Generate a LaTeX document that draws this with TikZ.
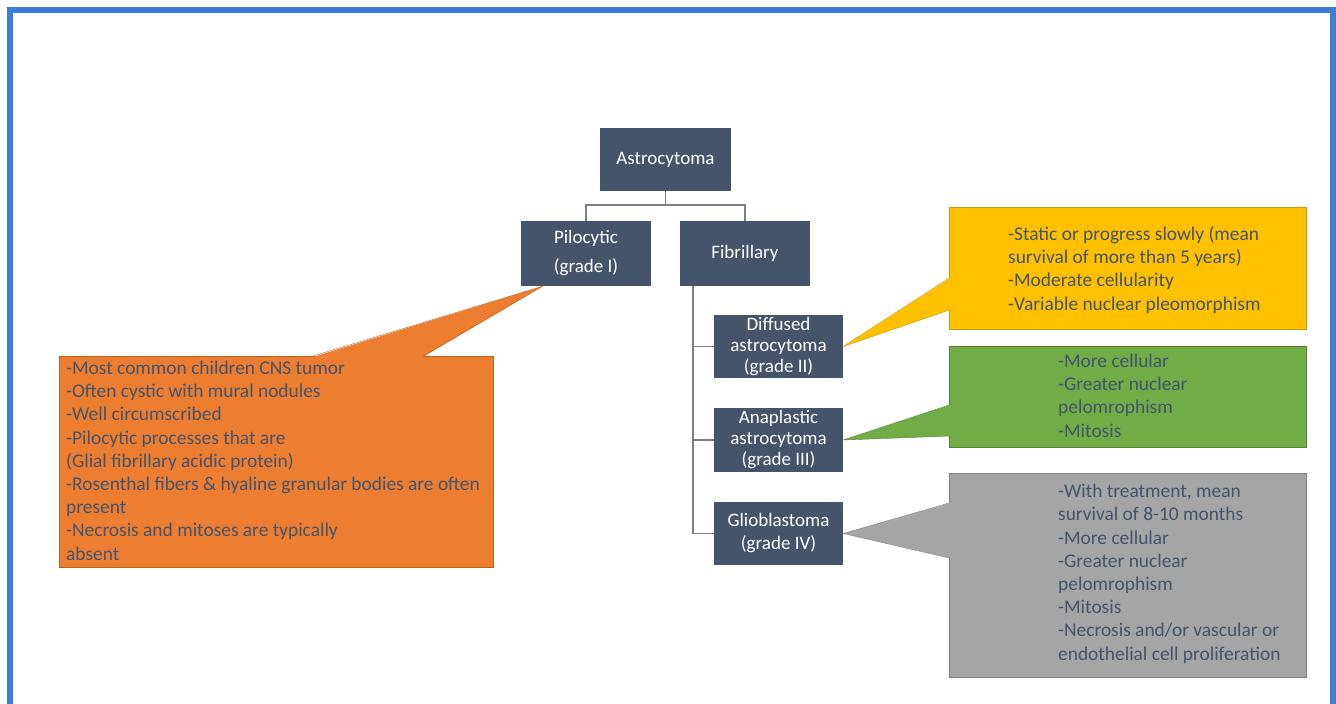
\documentclass[tikz,border=0pt]{standalone}
\usepackage{fontspec}
\setmainfont{Carlito}
\definecolor{slate}{HTML}{44546A}
\definecolor{treegray}{HTML}{7F7F7F}
\definecolor{frameblue}{HTML}{3C7DDB}
\definecolor{orfill}{HTML}{ED7D31}
\definecolor{orline}{HTML}{B8641F}
\definecolor{yefill}{HTML}{FFC000}
\definecolor{yeline}{HTML}{C59A16}
\definecolor{grfill}{HTML}{70AD47}
\definecolor{grline}{HTML}{548235}
\definecolor{gyfill}{HTML}{A5A5A5}
\definecolor{gyline}{HTML}{808080}
\begin{document}
\begin{tikzpicture}[x=1pt, y=-1pt,
  box/.style={fill=slate, text=white, align=center, inner sep=0pt, font=\fontsize{19}{22}\selectfont},
  tree/.style={draw=treegray, line width=1.5pt},
  note/.style={text=slate, align=left, anchor=base west, inner sep=0pt, font=\fontsize{19.4}{23.2}\selectfont}]
\clip (0,0) rectangle (1336,704);
\fill[white] (0,0) rectangle (1336,704);
\draw[frameblue, line width=6pt] (10,10) rectangle (1333,730);
% tree
\node[box, minimum width=131, minimum height=63] (N_0_0) at (665.5,159.5) {Astrocytoma};
\node[box, minimum width=130, minimum height=65] (N_1_0) at (586,253.5) {Pilocytic\\[7pt](grade I)};
\draw[tree] (N_0_0.south) -- ++(0,14) -| (N_1_0.north);
\node[box, minimum width=130, minimum height=65] (N_1_1) at (745,253.5) {Fibrillary};
\draw[tree] (N_0_0.south) -- ++(0,14) -| (N_1_1.north);
\coordinate (F_0) at ([xshift=13pt]N_1_1.south west);
\node[box, minimum width=129, minimum height=63, font=\fontsize{19}{21}\selectfont] (N_2_0) at (778.5,346.5) {Diffused\\astrocytoma\\(grade II)};
\draw[tree] (F_0) |- (N_2_0.west);
\node[box, minimum width=129, minimum height=64, font=\fontsize{19}{21}\selectfont] (N_2_1) at (778.5,440) {Anaplastic\\astrocytoma\\(grade III)};
\draw[tree] (F_0) |- (N_2_1.west);
\node[box, minimum width=129, minimum height=63, font=\fontsize{19}{23}\selectfont] (N_2_2) at (778.5,533.5) {Glioblastoma\\(grade IV)};
\draw[tree] (F_0) |- (N_2_2.west);
% callouts (anchor = baseline of last line)
\node[fill=orfill, draw=orline, minimum width=434, minimum height=211] (C_1_0) at (276,461.5) {};
\coordinate (T_1_0) at ([xshift=22pt]N_1_0.south west);
\fill[orfill] (313,357) -- (T_1_0) -- (423,357) -- cycle;
\draw[orline] (313,356) -- (T_1_0) -- (423,356);
\node[note] (L_1_0) at (66,560) {-Most common children CNS tumor\\-Often cystic with mural nodules\\-Well circumscribed\\-Pilocytic processes that are\\(Glial fibrillary acidic protein)\\-Rosenthal fibers \& hyaline granular bodies are often\\present\\-Necrosis and mitoses are typically\\absent};
\node[fill=yefill, draw=yeline, minimum width=357, minimum height=122] (C_2_0) at (1127.5,268) {};
\fill[yefill] (950,278) -- (N_2_0.east) -- (950,310) -- cycle;
\draw[yeline] (949,278) -- (N_2_0.east) -- (949,310);
\node[note] (L_2_0) at (1008,310) {-Static or progress slowly (mean\\survival of more than 5 years)\\-Moderate cellularity\\-Variable nuclear pleomorphism};
\node[fill=grfill, draw=grline, minimum width=357, minimum height=101] (C_2_1) at (1127.5,396.5) {};
\fill[grfill] (950,405) -- (N_2_1.east) -- (950,436) -- cycle;
\draw[grline] (949,405) -- (N_2_1.east) -- (949,436);
\node[note] (L_2_1) at (1058,437) {-More cellular\\-Greater nuclear\\pelomrophism\\-Mitosis};
\node[fill=gyfill, draw=gyline, minimum width=357, minimum height=204] (C_2_2) at (1127.5,575) {};
\fill[gyfill] (950,503) -- (N_2_2.east) -- (950,558) -- cycle;
\draw[gyline] (949,503) -- (N_2_2.east) -- (949,558);
\node[note] (L_2_2) at (1058,660) {-With treatment, mean\\survival of 8-10 months\\-More cellular\\-Greater nuclear\\pelomrophism\\-Mitosis\\-Necrosis and/or vascular or\\endothelial cell proliferation};
\end{tikzpicture}
\end{document}
